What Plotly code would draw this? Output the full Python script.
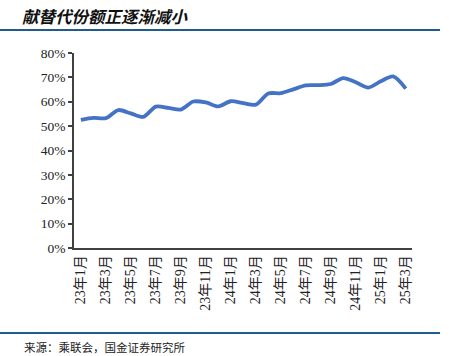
import plotly.graph_objects as go

months = [f"23年{m}月" for m in range(1, 13)] + [f"24年{m}月" for m in range(1, 13)] + [f"25年{m}月" for m in range(1, 4)]
share = [52.6, 53.4, 53.3, 56.6, 55.2, 53.8, 58.0, 57.5, 56.8, 60.1, 59.7, 58.1,
         60.2, 59.4, 58.8, 63.4, 63.5, 65.1, 66.7, 66.8, 67.3, 69.7, 68.0, 65.8,
         68.4, 70.4, 65.4]
tick_labels = months[::2]
title_text = "献替代份额正逐渐减小"
source_text = "来源：乘联会，国金证券研究所"

x_idx = list(range(len(months)))
fig = go.Figure()
fig.add_trace(go.Scatter(
    x=x_idx, y=[v / 100 for v in share], mode="lines",
    line=dict(color="#4472C4", width=3.8, shape="spline", smoothing=0.8),
    hoverinfo="skip"))

serif = "Liberation Serif, Noto Sans CJK SC, serif"
fig.update_layout(
    template="none",
    width=449, height=356,
    margin=dict(l=74, r=37, t=53, b=108, autoexpand=False),
    paper_bgcolor="white", plot_bgcolor="white",
    showlegend=False,
    font=dict(family=serif, size=13, color="#222222"),
    xaxis=dict(range=[-0.55, 26.5], tickmode="array",
               tickvals=x_idx[::2], ticktext=tick_labels,
               tickangle=-90, ticks="", showgrid=False, zeroline=False,
               automargin=False,
               showline=True, linecolor="#404040", linewidth=1.5,
               tickfont=dict(family=serif, size=14, color="#222222")),
    yaxis=dict(range=[0, 0.8], dtick=0.1, tickformat=".0%",
               ticks="outside", ticklen=4, tickcolor="#404040", tickwidth=1.5,
               showgrid=False, zeroline=False, automargin=False,
               showline=True, linecolor="#404040", linewidth=1.5,
               tickfont=dict(family=serif, size=13.5, color="#222222")),
)

fig.add_shape(type="line", xref="paper", yref="paper",
              x0=-0.219, x1=1.083, y0=1.118, y1=1.118,
              line=dict(color="#1F5C8B", width=2))
fig.add_shape(type="line", xref="paper", yref="paper",
              x0=-0.219, x1=1.083, y0=-0.436, y1=-0.436,
              line=dict(color="#1F5C8B", width=2))
fig.add_annotation(xref="paper", yref="paper", x=-0.160, y=1.19,
                   xanchor="left", yanchor="middle", showarrow=False,
                   text=title_text,
                   font=dict(family="Noto Sans CJK SC", size=16.5, color="#111111",
                             style="italic", weight="bold"))
fig.add_annotation(xref="paper", yref="paper", x=-0.155, y=-0.508,
                   xanchor="left", yanchor="middle", showarrow=False,
                   text=source_text,
                   font=dict(family="Noto Sans CJK SC", size=11.5, color="#222222"))

fig.write_html("out.html", config={"displayModeBar": False},
               post_script="document.body.style.margin='0';document.body.style.overflow='hidden';")
